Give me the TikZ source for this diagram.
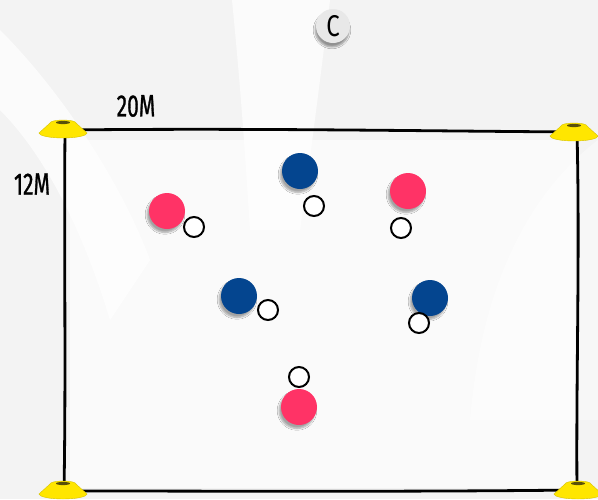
\documentclass[tikz,border=0pt]{standalone}
\usepackage{fontspec}
\newfontfamily\lab[FakeStretch=0.68, FakeBold=0.9]{Fira Sans}
\newfontfamily\clab[FakeStretch=0.8]{Fira Sans}
\usetikzlibrary{shadows,shadows.blur}
\definecolor{bgc}{RGB}{243,243,243}
\definecolor{pinkp}{RGB}{255,51,102}
\definecolor{bluep}{RGB}{4,69,143}
\definecolor{coney}{RGB}{255,230,0}
\definecolor{coneedge}{RGB}{215,195,0}
\definecolor{slotc}{RGB}{90,80,10}
\definecolor{cgray}{RGB}{232,232,232}
\tikzset{
  player/.style={circle, minimum size=36pt, inner sep=0pt,
    blur shadow={shadow xshift=-2pt, shadow yshift=-3.5pt, shadow blur steps=6, shadow opacity=35}},
  pinkpl/.style={player, fill=pinkp},
  bluepl/.style={player, fill=bluep},
  ball/.style={circle, minimum size=20pt, inner sep=0pt, fill=white, draw=black, line width=2pt},
  lbl/.style={font=\lab\fontsize{31}{31}\selectfont, inner sep=0pt, text=black},
  field/.style={line width=2.8pt, line cap=round, line join=round, black},
  cone/.pic={
    \fill[coney, draw=coneedge, line width=0.4pt] (-13,-6) -- (-24,4)
      arc[start angle=180, end angle=0, x radius=24, y radius=5] -- (13,-6)
      arc[start angle=0, end angle=-180, x radius=13, y radius=3] -- cycle;
    \fill[slotc] (0,-6.5) ellipse[x radius=7, y radius=1.6];
  }
}
\begin{document}
\begin{tikzpicture}[x=1pt, y=-1pt]
\useasboundingbox (0,0) rectangle (598,499);
\fill[bgc] (0,0) rectangle (598,499);
% faint watermark swooshes
\fill[white, opacity=0.75] (0,30) .. controls (60,90) and (120,180) .. (150,260) -- (110,320) .. controls (80,220) and (40,150) .. (0,110) -- cycle;
\fill[white, opacity=0.75] (232,0) -- (330,0) .. controls (320,80) and (310,160) .. (300,230) -- (250,230) .. controls (245,150) and (240,80) .. cycle;
\fill[white, opacity=0.6] (70,140) rectangle (575,488);
\fill[white, opacity=0.4] (598,140) .. controls (520,200) and (480,300) .. (470,420) -- (598,420) -- cycle;
% field corners
\coordinate (tl) at (65,130);
\coordinate (tr) at (577,132);
\coordinate (br) at (577,490);
\coordinate (bl) at (64,491);
\draw[field] (tl) .. controls (250,128) and (420,131) .. (tr);
\draw[field] (tr) .. controls (580,250) and (576,380) .. (br);
\draw[field] (br) .. controls (400,492) and (230,491) .. (bl);
\draw[field] (bl) .. controls (66,380) and (64,250) .. (tl);
\pic at (63,129) {cone};
\pic at (574,132) {cone};
\pic at (63,490) {cone};
\pic at (578,490) {cone};
% labels
\node[lbl] (w) at (136,106) {20M};
\node[lbl] (h) at (32,184) {12M};
\node[circle, minimum size=34pt, inner sep=0pt, fill=cgray,
  blur shadow={shadow xshift=-1pt, shadow yshift=-4pt, shadow blur steps=6, shadow opacity=40},
  font=\clab\fontsize{30}{30}\selectfont] (c) at (333,26) {C};
% players
\node[pinkpl] (p1) at (167,211) {};
\node[bluepl] (b1) at (300,171) {};
\node[pinkpl] (p2) at (408,191) {};
\node[bluepl] (b2) at (239,296) {};
\node[bluepl] (b3) at (430,298) {};
\node[pinkpl] (p3) at (299,407) {};
% balls
\node[ball] (o1) at (194,227) {};
\node[ball] (o2) at (314,206) {};
\node[ball] (o3) at (401,228) {};
\node[ball] (o4) at (268,310) {};
\node[ball] (o5) at (419,323) {};
\node[ball] (o6) at (299,377) {};
\end{tikzpicture}
\end{document}
